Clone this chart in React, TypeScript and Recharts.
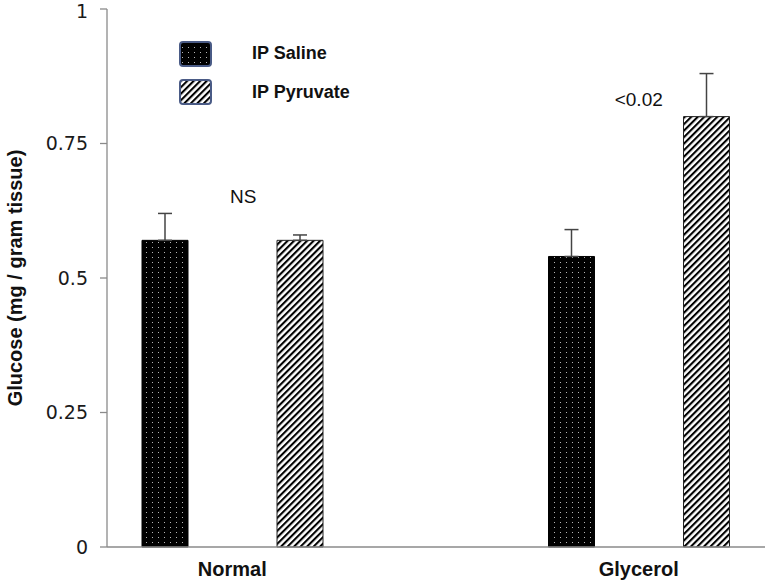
import React from 'react';
import { BarChart, Bar, XAxis, YAxis, ErrorBar, ReferenceDot } from 'recharts';

const categories = ['Normal', 'Glycerol'];
const salineValues = [0.57, 0.54];
const salineErrors = [0.05, 0.05];
const pyruvateValues = [0.57, 0.8];
const pyruvateErrors = [0.01, 0.08];
const yTicks = [0, 0.25, 0.5, 0.75, 1];
const noteTexts = ['NS', '<0.02'];
const noteLevels = [0.64, 0.82];
const noteShift = [11, 0];

const seriesNames = ['IP Saline', 'IP Pyruvate'];
const seriesFills = ['url(#salineDots)', 'url(#pyruvateStripes)'];

const data = categories.map((name, i) => ({
  name,
  saline: salineValues[i],
  salineErr: [0, salineErrors[i]],
  pyruvate: pyruvateValues[i],
  pyruvateErr: [0, pyruvateErrors[i]],
}));

const axisGray = '#8a8a8a';
const sans = "'Liberation Sans', Arial, sans-serif";

function NoteLabel(props: any) {
  const { viewBox, value, dx } = props;
  const x = viewBox.x + (viewBox.width || 0) / 2 + (dx || 0);
  const y = viewBox.y + (viewBox.height || 0) / 2;
  return (
    <text x={x} y={y} textAnchor="middle" fontSize={19} fill="#111" style={{ fontFamily: sans }}>
      {value}
    </text>
  );
}

function YTitle(props: any) {
  const { viewBox } = props;
  const x = viewBox.x + 15;
  const y = viewBox.y + viewBox.height / 2;
  return (
    <text
      x={x}
      y={y}
      transform={`rotate(-90, ${x}, ${y})`}
      textAnchor="middle"
      dominantBaseline="central"
      fontSize={20}
      fontWeight="bold"
      fill="#111"
      style={{ fontFamily: sans }}
    >
      Glucose (mg / gram tissue)
    </text>
  );
}

export default function App() {
  return (
    <div style={{ position: 'absolute', left: 0, top: 0, width: 765, height: 584, background: '#fff', fontFamily: sans }}>
      <BarChart
        width={765}
        height={584}
        data={data}
        margin={{ top: 9, right: 0, bottom: 0, left: 0 }}
        barSize={46}
        barGap={89}
      >
        <defs>
          <pattern id="salineDots" width="6" height="5" patternUnits="userSpaceOnUse">
            <rect width="6" height="5" fill="#000" />
            <rect x="2" y="2" width="1" height="1" fill="#b5b5b5" />
          </pattern>
          <pattern id="pyruvateStripes" width="4.6" height="4.6" patternUnits="userSpaceOnUse" patternTransform="rotate(45)">
            <rect width="4.6" height="4.6" fill="#fff" />
            <rect x="0" y="0" width="2.1" height="4.6" fill="#000" />
          </pattern>
        </defs>
        <XAxis
          dataKey="name"
          height={37}
          padding={{ left: -78, right: -77 }}
          tickLine={false}
          axisLine={{ stroke: axisGray, strokeWidth: 1.3 }}
          tickMargin={9}
          tick={{ fontSize: 20, fontWeight: 'bold', fill: '#111', style: { fontFamily: sans } }}
        />
        <YAxis
          width={107}
          domain={[0, 1]}
          ticks={yTicks}
          tickSize={7}
          tickMargin={12}
          tickLine={{ stroke: axisGray, strokeWidth: 1.3 }}
          axisLine={{ stroke: axisGray, strokeWidth: 1.3 }}
          tick={{ fontSize: 19, fill: '#1a1a1a', style: { fontFamily: "'DejaVu Sans', sans-serif" } }}
          label={<YTitle />}
        />
        <Bar dataKey="saline" fill={seriesFills[0]} stroke="#000" strokeWidth={1} isAnimationActive={false}>
          <ErrorBar dataKey="salineErr" direction="y" width={7} stroke="#444" strokeWidth={1.5} />
        </Bar>
        <Bar dataKey="pyruvate" fill={seriesFills[1]} stroke="#222" strokeWidth={1} isAnimationActive={false}>
          <ErrorBar dataKey="pyruvateErr" direction="y" width={7} stroke="#444" strokeWidth={1.5} />
        </Bar>
        {categories.map((c, i) => (
          <ReferenceDot
            key={c}
            x={c}
            y={noteLevels[i]}
            r={0}
            fill="none"
            stroke="none"
            label={<NoteLabel value={noteTexts[i]} dx={noteShift[i]} />}
          />
        ))}
      </BarChart>
      <svg
        width={765}
        height={120}
        style={{ position: 'absolute', left: 0, top: 0, pointerEvents: 'none' }}
      >
        {seriesNames.map((name, i) => (
          <g key={name}>
            <rect
              x={180}
              y={42 + i * 38}
              width={31}
              height={24}
              rx={3}
              fill={seriesFills[i]}
              stroke="#4a5b86"
              strokeWidth={2}
            />
            <text
              x={252}
              y={53 + i * 39}
              dominantBaseline="central"
              fontSize={18}
              fontWeight="bold"
              fill="#111"
              style={{ fontFamily: sans }}
            >
              {name}
            </text>
          </g>
        ))}
      </svg>
    </div>
  );
}
